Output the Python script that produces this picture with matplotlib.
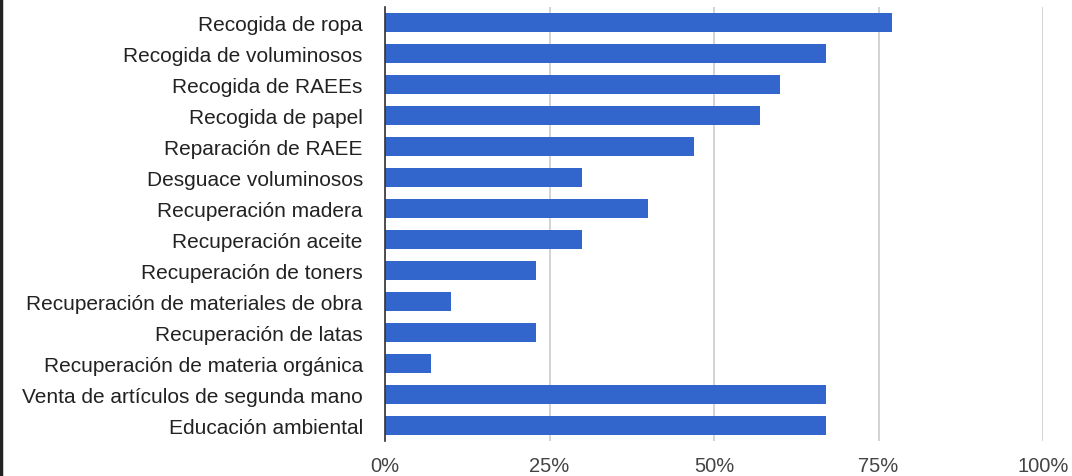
import matplotlib
matplotlib.use('Agg')
import matplotlib.pyplot as plt
from matplotlib.lines import Line2D

categories = [
  'Recogida de ropa',
  'Recogida de voluminosos',
  'Recogida de RAEEs',
  'Recogida de papel',
  'Reparación de RAEE',
  'Desguace voluminosos',
  'Recuperación madera',
  'Recuperación aceite',
  'Recuperación de toners',
  'Recuperación de materiales de obra',
  'Recuperación de latas',
  'Recuperación de materia orgánica',
  'Venta de artículos de segunda mano',
  'Educación ambiental',
]
values = [77, 67, 60, 57, 47, 30, 40, 30, 23, 10, 23, 7, 67, 67]
x_ticks = [0, 25, 50, 75, 100]
x_tick_labels = ['0%', '25%', '50%', '75%', '100%']


def main():
  plt.rcParams['font.family'] = ['Liberation Sans', 'DejaVu Sans']
  fig = plt.figure(figsize=(10.72, 4.77), dpi=100)
  ax = fig.add_axes([385 / 1072, 35 / 477, 658 / 1072, 434 / 477])

  y_pos = list(range(len(categories)))
  ax.barh(y_pos, values, height=0.62, color='#3366cc', zorder=3)
  ax.set_ylim(len(categories) - 0.5, -0.5)
  ax.set_xlim(0, 100)

  ax.set_yticks(y_pos)
  ax.set_yticklabels(categories, fontsize=15, color='#222222')
  ax.set_xticks(x_ticks)
  ax.set_xticklabels(x_tick_labels, fontsize=14.5, color='#444444')
  ax.tick_params(axis='both', length=0)
  ax.tick_params(axis='y', pad=16)
  ax.tick_params(axis='x', pad=11)

  ax.grid(axis='x', color='#cccccc', linewidth=1.2, zorder=0)
  for side in ['top', 'right', 'bottom']:
    ax.spines[side].set_visible(False)
  ax.spines['left'].set_color('#333333')
  ax.spines['left'].set_linewidth(1.2)
  ax.spines['left'].set_zorder(4)

  # left border of the screenshot
  fig.add_artist(Line2D([0.001, 0.001], [0, 1], color='#222222', linewidth=2.5,
                        transform=fig.transFigure))

  fig.savefig('out.png', dpi=100)


if __name__ == '__main__':
  main()
